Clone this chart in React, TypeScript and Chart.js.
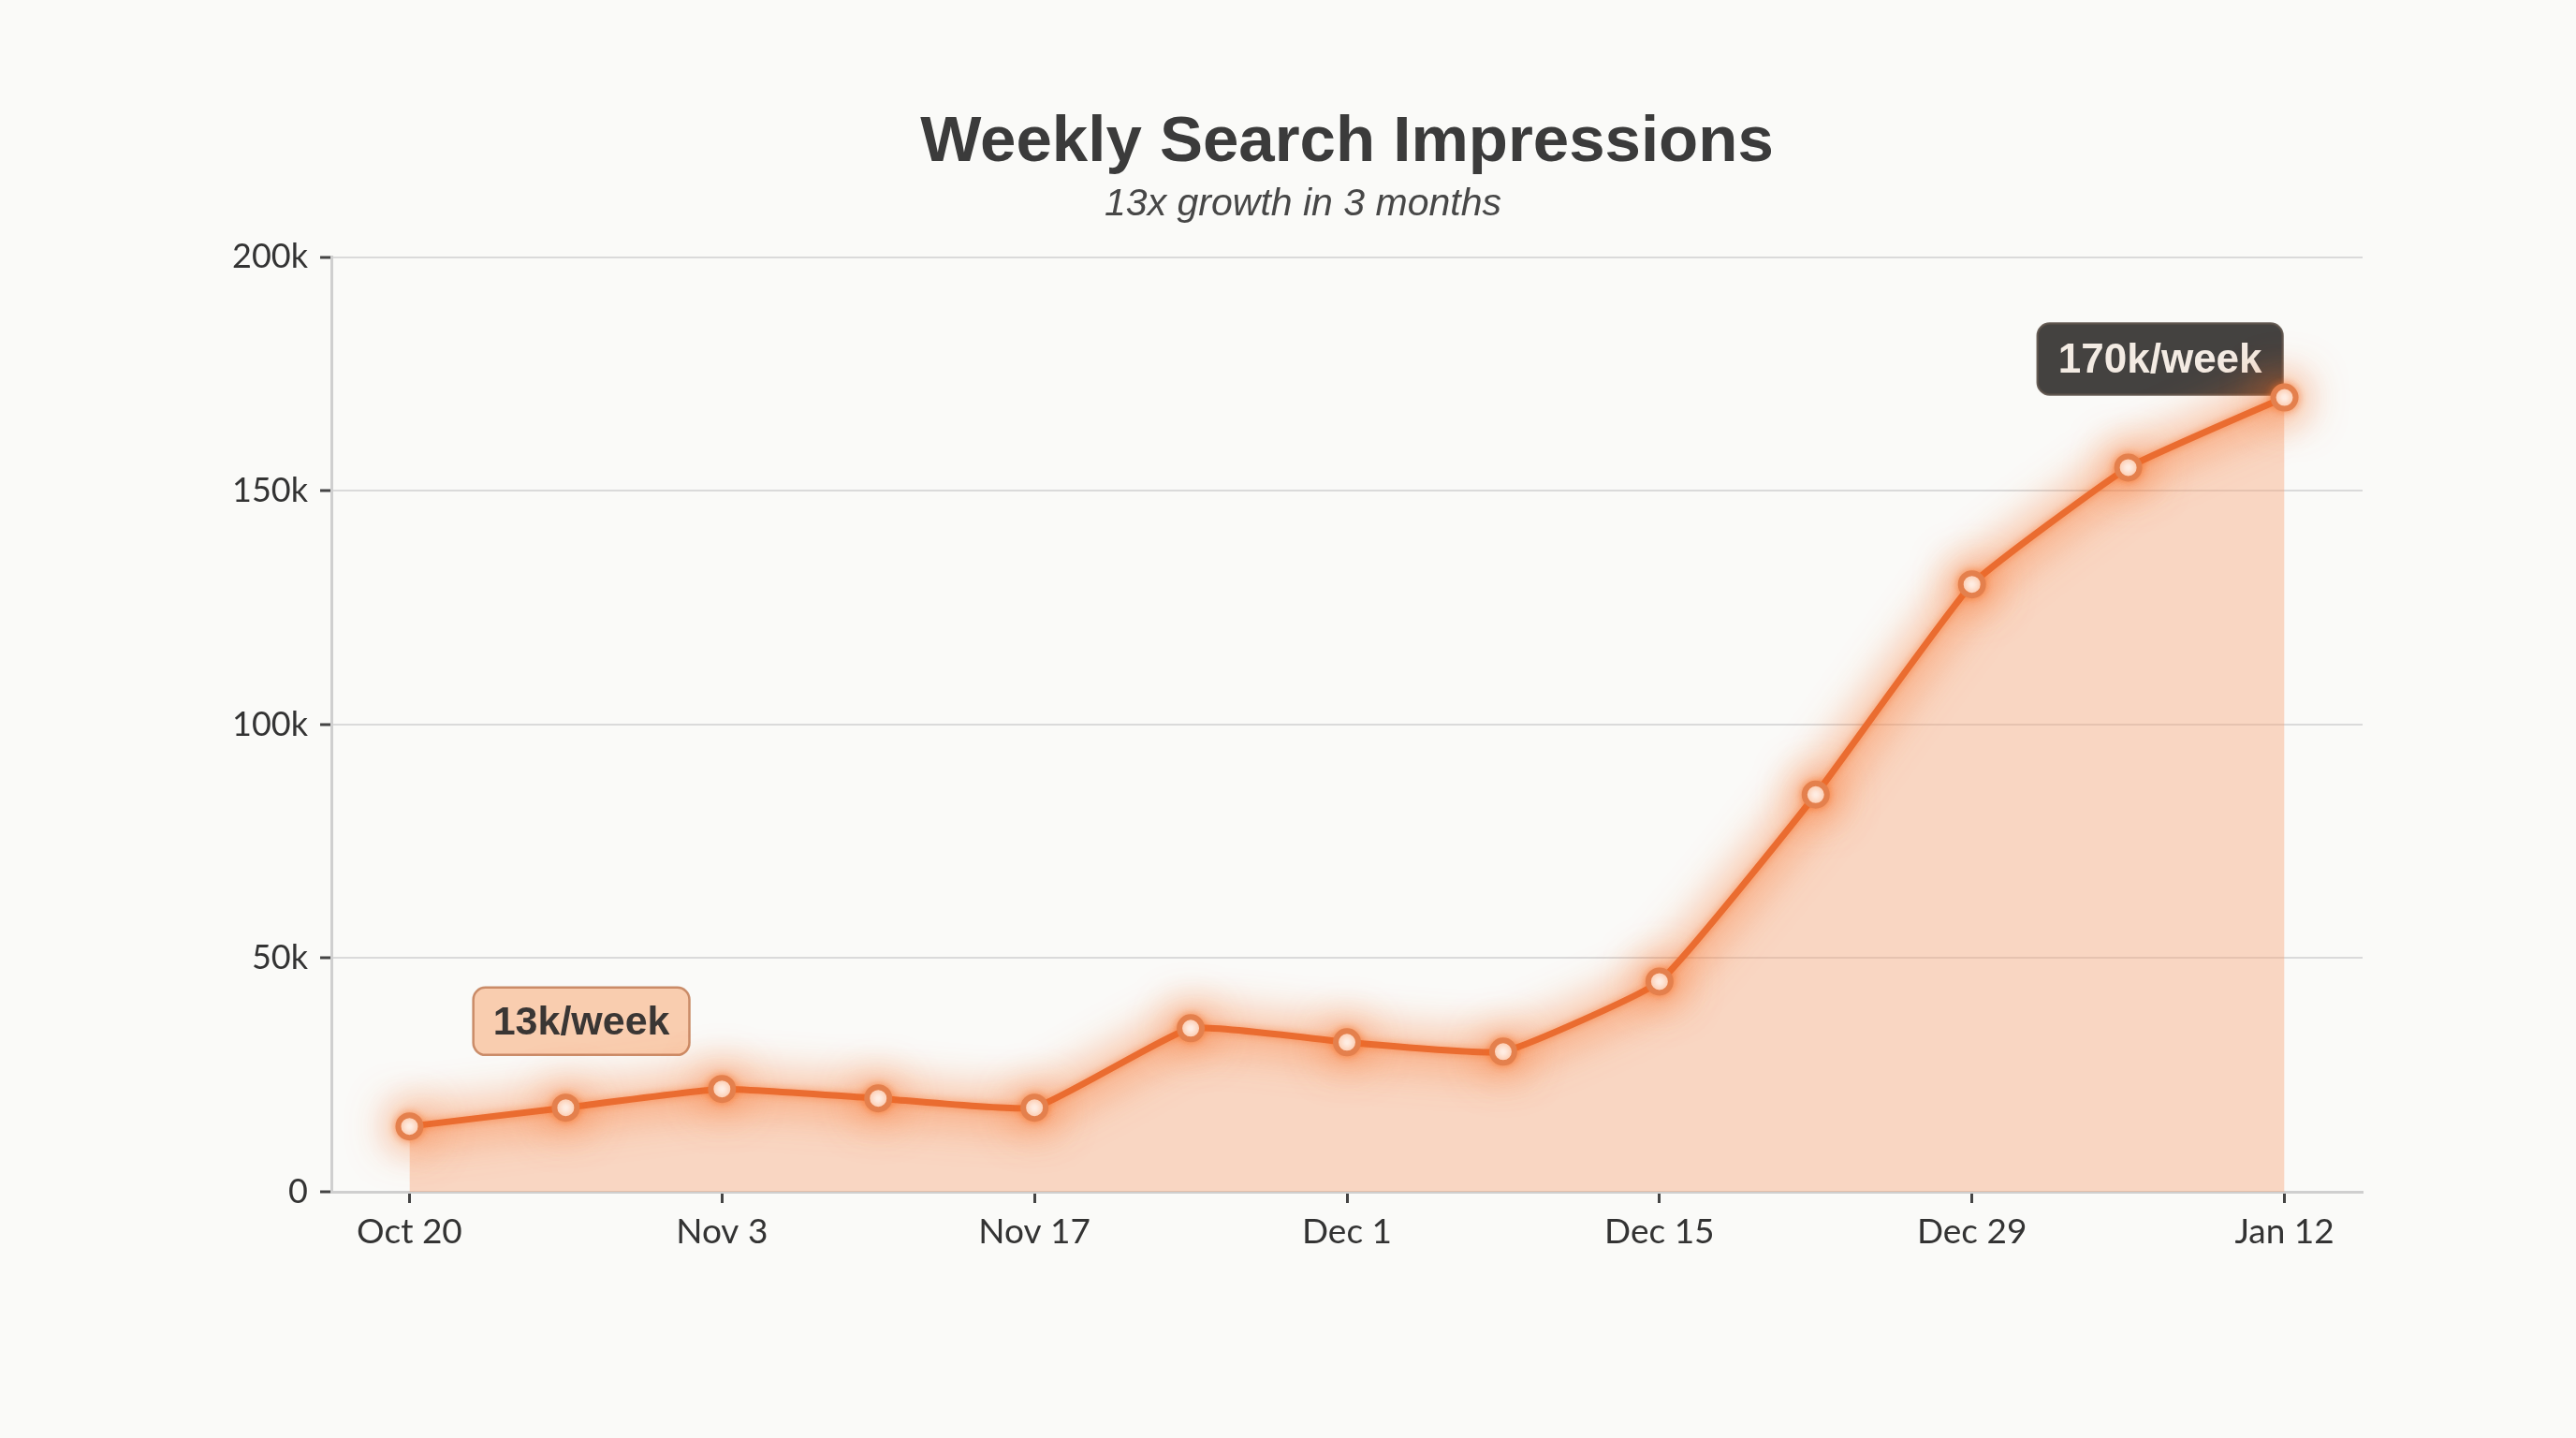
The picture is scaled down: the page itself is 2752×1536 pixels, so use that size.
import React, { useEffect, useRef } from 'react';
import Chart from 'chart.js/auto';

const weeks = ['Oct 20', 'Oct 27', 'Nov 3', 'Nov 10', 'Nov 17', 'Nov 24', 'Dec 1', 'Dec 8', 'Dec 15', 'Dec 22', 'Dec 29', 'Jan 5', 'Jan 12'];
const impressions = [14000, 18000, 22000, 20000, 18000, 35000, 32000, 30000, 45000, 85000, 130000, 155000, 170000];
const yTickLabels = ['0', '50k', '100k', '150k', '200k'];

const TITLE_FONT = "'Liberation Sans', Arial, sans-serif";
const TICK_FONT = "Lato, 'Open Sans', sans-serif";

const subtitleText = '13x growth in 3 months';

// callouts sit at data coordinates; the end one hangs off the last point
const startNote = { text: '13k/week', x: 1.1, y: 36500 };
const endNote = { text: '170k/week', index: impressions.length - 1 };

const OFFSCREEN = 6000;

// dataset order: 0 = line, 1 = halo (only its shadow is shown), 2 = area fill
const glow = {
	id: 'glow',
	beforeDatasetDraw(chart: any, args: any) {
		if (args.index > 1) return;
		const ctx = chart.ctx;
		ctx.save();
		if (args.index === 1) {
			// draw the halo shape off the canvas and throw its blurred shadow back in
			ctx.translate(-OFFSCREEN, 0);
			ctx.shadowOffsetX = OFFSCREEN * chart.currentDevicePixelRatio;
			ctx.shadowColor = 'rgba(246, 108, 34, 0.72)';
			ctx.shadowBlur = 46;
		} else {
			ctx.shadowColor = 'rgba(246, 108, 34, 0.6)';
			ctx.shadowBlur = 10;
		}
	},
	afterDatasetDraw(chart: any, args: any) {
		if (args.index > 1) return;
		chart.ctx.restore();
	},
};

// subtitle sits a little left of centre in the original, so it is drawn by hand
const subtitle = {
	id: 'subtitleText',
	afterDraw(chart: any) {
		const { ctx, chartArea } = chart;
		ctx.save();
		ctx.font = `italic 41px ${TITLE_FONT}`;
		ctx.fillStyle = '#474747';
		ctx.textAlign = 'center';
		ctx.textBaseline = 'middle';
		ctx.fillText(subtitleText, (chartArea.left + chartArea.right) / 2 - 47, chartArea.top - 56);
		ctx.restore();
	},
};

function box(ctx: CanvasRenderingContext2D, x: number, y: number, w: number, h: number, fill: string, stroke: string) {
	ctx.beginPath();
	ctx.roundRect(x, y, w, h, 13);
	ctx.fillStyle = fill;
	ctx.fill();
	ctx.lineWidth = 2.5;
	ctx.strokeStyle = stroke;
	ctx.stroke();
}

const callouts = {
	id: 'callouts',
	// drawn after the area fill but before the halo and line
	afterDatasetDraw(chart: any, args: any) {
		if (args.index !== 2) return;
		const ctx: CanvasRenderingContext2D = chart.ctx;
		const xs = chart.scales.x;
		const ys = chart.scales.y;
		ctx.save();
		ctx.font = `bold 43px ${TITLE_FONT}`;
		ctx.textAlign = 'center';
		ctx.textBaseline = 'middle';

		// 13k/week
		let w = ctx.measureText(startNote.text).width + 42;
		let h = 72;
		const cx = xs.getPixelForValue(startNote.x);
		const cy = ys.getPixelForValue(startNote.y);
		box(ctx, cx - w / 2, cy - h / 2, w, h, 'rgba(248, 196, 162, 0.85)', 'rgba(196, 130, 92, 0.9)');
		ctx.fillStyle = '#3a3634';
		ctx.fillText(startNote.text, cx, cy + 2);

		// 170k/week
		ctx.font = `bold 44px ${TITLE_FONT}`;
		w = ctx.measureText(endNote.text).width + 44;
		h = 76;
		const right = xs.getPixelForValue(endNote.index) - 2;
		const bottom = ys.getPixelForValue(impressions[endNote.index]) - 3;
		box(ctx, right - w, bottom - h, w, h, 'rgba(58, 56, 54, 0.95)', 'rgba(90, 80, 72, 0.9)');
		ctx.fillStyle = '#f3ebe3';
		ctx.fillText(endNote.text, right - w / 2, bottom - h / 2 + 2);
		ctx.restore();
	},
};

const App: React.FC = () => {
	const canvasRef = useRef<HTMLCanvasElement | null>(null);
	const chartRef = useRef<Chart | null>(null);

	useEffect(() => {
		const canvas = canvasRef.current;
		if (!canvas) return;
		const ctx = canvas.getContext('2d');
		if (!ctx) return;

		if (chartRef.current) {
			chartRef.current.destroy();
		}

		chartRef.current = new Chart(ctx, {
			type: 'line',
			data: {
				labels: weeks,
				datasets: [
					{
						label: 'Impressions',
						data: impressions,
						borderColor: '#ea6c30',
						borderWidth: 7,
						tension: 0.12,
						fill: false,
						pointRadius: 12,
						pointBorderWidth: 6,
						pointBackgroundColor: '#fffaf6',
						pointBorderColor: '#e4804d',
						pointHoverRadius: 12,
					},
					{
						label: 'Halo',
						data: impressions,
						borderColor: '#f07030',
						borderWidth: 22,
						tension: 0.12,
						fill: false,
						clip: false,
						pointRadius: 20,
						pointBorderWidth: 0,
						pointBackgroundColor: '#f07030',
						pointHoverRadius: 20,
					},
					{
						label: 'Area',
						data: impressions,
						borderWidth: 0,
						borderColor: 'transparent',
						backgroundColor: 'rgba(249, 165, 120, 0.42)',
						tension: 0.12,
						fill: 'origin',
						pointRadius: 0,
					},
				],
			},
			options: {
				animation: false,
				responsive: true,
				maintainAspectRatio: false,
				layout: {
					padding: { left: 0, right: 228, top: 0, bottom: 153 },
				},
				plugins: {
					legend: { display: false },
					tooltip: { enabled: false },
					title: {
						display: true,
						text: 'Weekly Search Impressions',
						fullSize: false,
						color: '#3b3b3b',
						font: { family: TITLE_FONT, size: 69, weight: 'bold', lineHeight: 1.2 },
						padding: { top: 112, bottom: 80 },
					},
				},
				scales: {
					x: {
						offset: true,
						afterFit: (scale: any) => {
							scale.height = 110;
						},
						afterBuildTicks: (scale: any) => {
							scale.ticks = scale.ticks.filter((_t: any, i: number) => i % 2 === 0);
						},
						border: { display: true, color: '#cfcfcf', width: 3 },
						grid: {
							drawOnChartArea: false,
							offset: false,
							tickLength: 12,
							tickColor: '#444444',
							tickWidth: 3,
						},
						ticks: {
							autoSkip: false,
							maxRotation: 0,
							padding: 9,
							color: '#333333',
							font: { family: TICK_FONT, size: 37 },
						},
					},
					y: {
						min: 0,
						max: 200000,
						afterFit: (scale: any) => {
							scale.width = 354;
						},
						border: { display: true, color: '#cfcfcf', width: 3 },
						grid: {
							color: '#dadada',
							lineWidth: 2,
							tickLength: 12,
							tickColor: '#444444',
							tickWidth: 3,
						},
						ticks: {
							stepSize: 50000,
							padding: 13,
							color: '#333333',
							font: { family: TICK_FONT, size: 36 },
							callback: (_v: any, i: number) => yTickLabels[i],
						},
					},
				},
			},
			plugins: [glow, callouts, subtitle],
		});

		return () => {
			if (chartRef.current) {
				chartRef.current.destroy();
				chartRef.current = null;
			}
		};
	}, []);

	return (
		<div style={{ position: 'fixed', left: 0, top: 0, width: '100vw', height: '100vh', background: '#fafaf8' }}>
			<canvas ref={canvasRef} />
		</div>
	);
};

export default App;
